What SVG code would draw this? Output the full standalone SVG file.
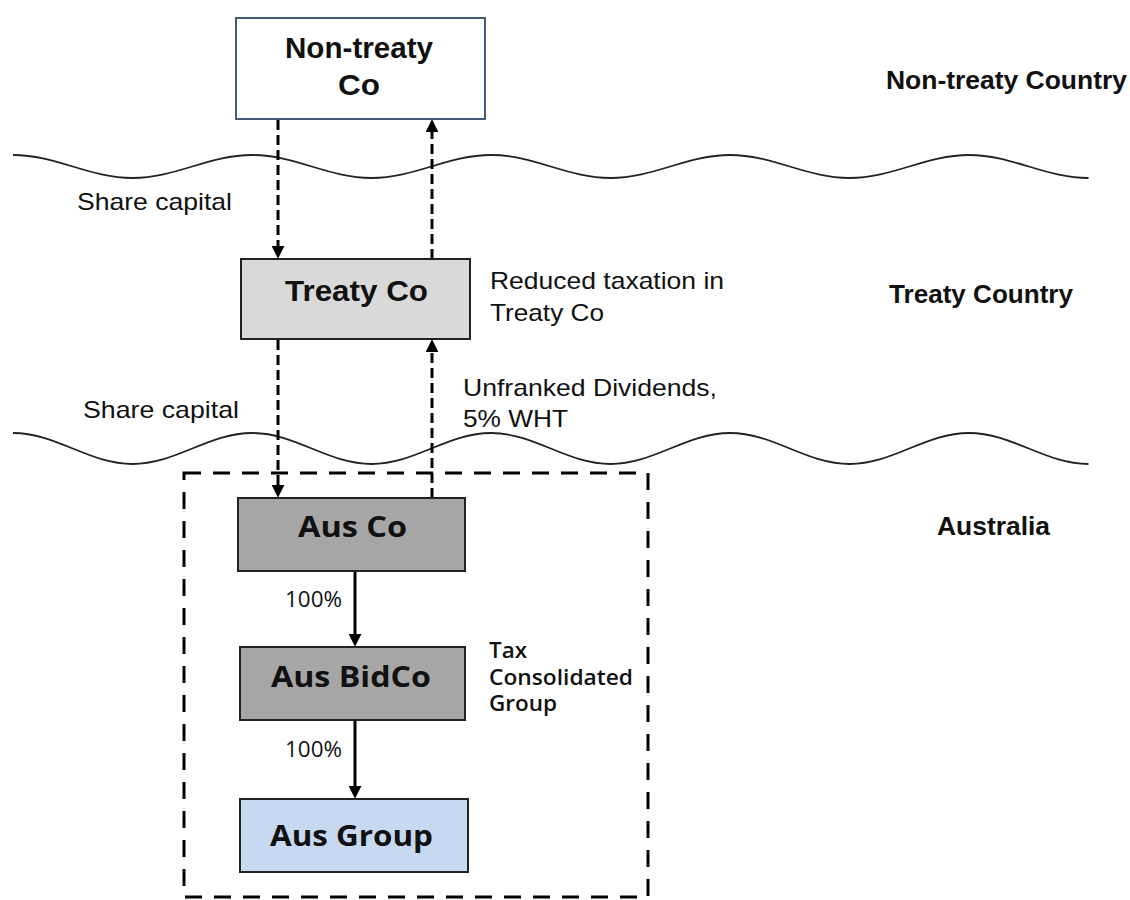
<svg xmlns="http://www.w3.org/2000/svg" width="1130" height="900" viewBox="0 0 1130 900">
  <style>
    .box { stroke: #222; stroke-width: 2; }
    .lbl { font-family: "Liberation Sans", Arial, sans-serif; fill: #111; }
    .b { font-weight: bold; }
    .os { font-family: "Open Sans", "Noto Sans", sans-serif; fill: #111; }
    .wave { fill: none; stroke: #222; stroke-width: 1.8; }
    .dash { fill: none; stroke: #000; stroke-width: 3; stroke-dasharray: 10 5; }
    .solid { fill: none; stroke: #000; stroke-width: 3; }
  </style>
  <defs>
    <marker id="ah" viewBox="0 0 10 10" refX="1" refY="5" markerUnits="userSpaceOnUse" markerWidth="13" markerHeight="13" orient="auto">
      <path d="M0,0 L10,5 L0,10 z" fill="#000"/>
    </marker>
  </defs>
  <rect width="1130" height="900" fill="#fff"/>

  <g id="waves">
    <path class="wave" d="M13,155 C56.5,155 89,178 132.5,178 S208.5,155 252,155 S328,178 371.5,178 S447.5,155 491,155 S567,178 610.5,178 S686.5,155 730,155 S806,178 849.5,178 S925.5,155 969,155 S1045,178 1088.5,178"/>
    <path class="wave" d="M13,433 C56.5,433 89,464 132.5,464 S208.5,433 252,433 S328,464 371.5,464 S447.5,433 491,433 S567,464 610.5,464 S686.5,433 730,433 S806,464 849.5,464 S925.5,433 969,433 S1045,464 1088.5,464"/>
  </g>

  <g id="tax-group">
    <rect x="184" y="473" width="464" height="424" fill="none" stroke="#000" stroke-width="3" stroke-dasharray="17 12"/>
    <text class="os" font-size="21" font-weight="600" x="489" y="658" textLength="38" lengthAdjust="spacingAndGlyphs">Tax</text>
    <text class="os" font-size="21" font-weight="600" x="489" y="685" textLength="144" lengthAdjust="spacingAndGlyphs">Consolidated</text>
    <text class="os" font-size="21" font-weight="600" x="489" y="711" textLength="68" lengthAdjust="spacingAndGlyphs">Group</text>
  </g>

  <g id="non-treaty-co">
    <rect x="236" y="18" width="249" height="101" fill="#fff" stroke="#2e4a6b" stroke-width="1.8"/>
    <text class="lbl b" font-size="30" x="285" y="58" textLength="148" lengthAdjust="spacingAndGlyphs">Non-treaty</text>
    <text class="lbl b" font-size="30" x="338" y="95" textLength="42" lengthAdjust="spacingAndGlyphs">Co</text>
  </g>

  <g id="treaty-co">
    <rect class="box" x="241" y="259" width="229" height="80" fill="#d9d9d9"/>
    <text class="lbl b" font-size="30" x="285" y="301" textLength="143" lengthAdjust="spacingAndGlyphs">Treaty Co</text>
  </g>

  <g id="aus-co">
    <rect class="box" x="238" y="498" width="227" height="73" fill="#a6a6a6"/>
    <text class="os" font-size="29" font-weight="bold" x="298" y="537" textLength="109" lengthAdjust="spacingAndGlyphs">Aus Co</text>
  </g>

  <g id="aus-bidco">
    <rect class="box" x="240" y="647" width="225" height="73" fill="#a6a6a6"/>
    <text class="os" font-size="29" font-weight="bold" x="271" y="687" textLength="160" lengthAdjust="spacingAndGlyphs">Aus BidCo</text>
  </g>

  <g id="aus-group">
    <rect class="box" x="240" y="799" width="228" height="73" fill="#c6d9f1"/>
    <text class="os" font-size="29" font-weight="bold" x="270" y="846" textLength="163" lengthAdjust="spacingAndGlyphs">Aus Group</text>
  </g>

  <g id="connectors">
    <path class="dash" d="M278,120 L278,247" marker-end="url(#ah)"/>
    <path class="dash" d="M432,259 L432,131" marker-end="url(#ah)"/>
    <path class="dash" d="M278,340 L278,486" marker-end="url(#ah)"/>
    <path class="dash" d="M432,498 L432,351" marker-end="url(#ah)"/>
    <path class="solid" d="M355,572 L355,635" marker-end="url(#ah)"/>
    <path class="solid" d="M355,721 L355,787" marker-end="url(#ah)"/>
  </g>

  <g id="labels">
    <text class="lbl" font-size="24" x="77" y="210" textLength="155" lengthAdjust="spacingAndGlyphs">Share capital</text>
    <text class="lbl" font-size="24" x="83" y="418" textLength="156" lengthAdjust="spacingAndGlyphs">Share capital</text>
    <text class="lbl" font-size="24" x="490" y="289" textLength="234" lengthAdjust="spacingAndGlyphs">Reduced taxation in</text>
    <text class="lbl" font-size="24" x="490" y="321" textLength="114" lengthAdjust="spacingAndGlyphs">Treaty Co</text>
    <text class="lbl" font-size="24" x="463" y="396" textLength="254" lengthAdjust="spacingAndGlyphs">Unfranked Dividends,</text>
    <text class="lbl" font-size="24" x="463" y="427" textLength="105" lengthAdjust="spacingAndGlyphs">5% WHT</text>
    <text class="os" font-size="21" x="285" y="607" textLength="57" lengthAdjust="spacingAndGlyphs">100%</text>
    <text class="os" font-size="21" x="285" y="757" textLength="57" lengthAdjust="spacingAndGlyphs">100%</text>
    <text class="lbl b" font-size="26" x="886" y="89" textLength="241" lengthAdjust="spacingAndGlyphs">Non-treaty Country</text>
    <text class="lbl b" font-size="26" x="889" y="303" textLength="184" lengthAdjust="spacingAndGlyphs">Treaty Country</text>
    <text class="lbl b" font-size="26" x="937" y="535" textLength="113" lengthAdjust="spacingAndGlyphs">Australia</text>
  </g>
</svg>
